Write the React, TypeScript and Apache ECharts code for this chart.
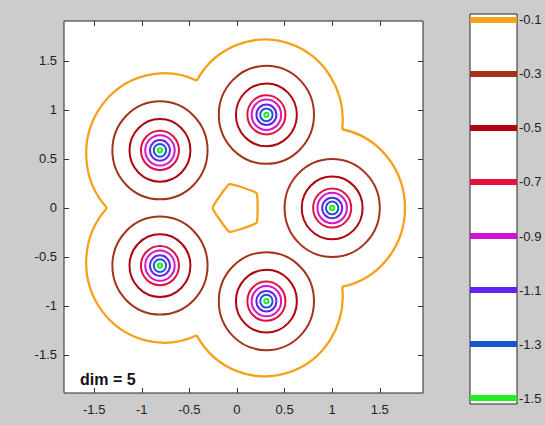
import React, { useEffect, useRef } from "react";
import * as echarts from "echarts";

// axis ticks / limits
const xTicks = [-1.5, -1, -0.5, 0, 0.5, 1, 1.5];
const yTicks = [-1.5, -1, -0.5, 0, 0.5, 1, 1.5];
const xRange = [-1.817, 1.954];
const yRange = [-1.888, 1.908];

// contour levels and their colours
const levels = [-0.1, -0.3, -0.5, -0.7, -0.9, -1.1, -1.3, -1.5];
const levelColors = ["#f6a11c", "#a5321c", "#b0050f", "#e2123a", "#d312d3", "#6521f2", "#1b56cf", "#22ee22"];

// well centres
const wellX = [1, 0.309, -0.809, -0.809, 0.309];
const wellY = [0, 0.951, 0.588, -0.588, -0.951];

// ring radius around each well for levels -0.3 ... -1.5
const ringRadii = [0.5, 0.32, 0.2, 0.155, 0.105, 0.065, 0.022];

// outer -0.1 contour, one arc per well: centre x, centre y, radius, from (deg), to (deg)
const outerArcX = [0.946, 0.292, -0.765, -0.765, 0.292];
const outerArcY = [0, 0.9, 0.556, -0.556, -0.9];
const outerArcR = [0.819, 0.819, 0.819, 0.819, 0.819];
const outerArcFrom = [-78.8, -6.8, 65.2, 137.2, 209.2];
const outerArcTo = [78.8, 150.8, 222.8, 294.8, 366.8];

// inner -0.1 contour around the origin
const pentagonX = [-0.255, -0.079, 0.206, 0.206, -0.079];
const pentagonY = [0, 0.243, 0.15, -0.15, -0.243];

// colour bar
const colorbarRange = [-1.522, -0.078];
const bandHalf = 0.0111;

const FONT = "Liberation Sans, Arial, sans-serif";

export default function App() {
  const ref = useRef<HTMLDivElement>(null);
  useEffect(() => {
    if (!ref.current) return;
    const chart = echarts.init(ref.current, null, { renderer: "svg" });

    const ringData: number[][] = [];
    wellX.forEach((x, i) => {
      ringRadii.forEach((r, k) => ringData.push([x, wellY[i], r, k + 1]));
    });

    const tickStyle = { inside: true, length: 5, lineStyle: { color: "#333", width: 1 } };
    const noLine = { show: false, onZero: false };

    const option: any = {
      animation: false,
      backgroundColor: "#cccccc",
      grid: [
        { left: 64, top: 21, width: 359, height: 372, show: true, backgroundColor: "#ffffff", borderColor: "#262626", borderWidth: 1 },
        { left: 470, top: 14, width: 47, height: 390, show: true, backgroundColor: "#ffffff", borderColor: "#262626", borderWidth: 1 },
      ],
      xAxis: [
        {
          gridIndex: 0, type: "value", min: xRange[0], max: xRange[1], position: "bottom",
          axisLine: noLine, splitLine: { show: false },
          axisTick: { ...tickStyle, customValues: xTicks },
          axisLabel: { customValues: xTicks, margin: 10, fontSize: 13, color: "#222", fontFamily: FONT },
        },
        {
          gridIndex: 0, type: "value", min: xRange[0], max: xRange[1], position: "top",
          axisLine: noLine, splitLine: { show: false },
          axisTick: { ...tickStyle, customValues: xTicks },
          axisLabel: { show: false },
        },
        {
          gridIndex: 1, type: "value", min: 0, max: 1, show: false,
        },
      ],
      yAxis: [
        {
          gridIndex: 0, type: "value", min: yRange[0], max: yRange[1], position: "left",
          axisLine: noLine, splitLine: { show: false },
          axisTick: { ...tickStyle, customValues: yTicks },
          axisLabel: { customValues: yTicks, margin: 7, fontSize: 13, color: "#222", fontFamily: FONT },
        },
        {
          gridIndex: 0, type: "value", min: yRange[0], max: yRange[1], position: "right",
          axisLine: noLine, splitLine: { show: false },
          axisTick: { ...tickStyle, customValues: yTicks },
          axisLabel: { show: false },
        },
        {
          gridIndex: 1, type: "value", min: colorbarRange[0], max: colorbarRange[1], position: "right",
          axisLine: noLine, splitLine: { show: false }, axisTick: { show: false },
          axisLabel: { customValues: levels, margin: 2, fontSize: 13, color: "#222", fontFamily: FONT },
        },
      ],
      series: [
        {
          type: "custom",
          xAxisIndex: 0, yAxisIndex: 0,
          data: outerArcX.map((x, i) => [x, outerArcY[i], outerArcR[i], outerArcFrom[i], outerArcTo[i]]),
          renderItem: (_p: any, api: any) => {
            const c = api.coord([api.value(0), api.value(1)]);
            const s = api.size([api.value(2), api.value(2)]);
            const a0 = (api.value(3) * Math.PI) / 180;
            const a1 = (api.value(4) * Math.PI) / 180;
            return {
              type: "arc",
              x: c[0], y: c[1], scaleY: s[1] / s[0],
              shape: { cx: 0, cy: 0, r: s[0], startAngle: -a1, endAngle: -a0, clockwise: true },
              style: { fill: "none", stroke: levelColors[0], lineWidth: 2.3 },
            };
          },
        },
        {
          type: "custom",
          xAxisIndex: 0, yAxisIndex: 0,
          data: [[0, 0]],
          renderItem: (_p: any, api: any) => {
            const pts = pentagonX.map((x, i) => api.coord([x, pentagonY[i]]));
            return {
              type: "polygon",
              shape: { points: pts, smooth: 0.1 },
              style: { fill: "none", stroke: levelColors[0], lineWidth: 2.3 },
            };
          },
        },
        {
          type: "custom",
          xAxisIndex: 0, yAxisIndex: 0,
          data: ringData,
          renderItem: (_p: any, api: any) => {
            const c = api.coord([api.value(0), api.value(1)]);
            const s = api.size([api.value(2), api.value(2)]);
            return {
              type: "ellipse",
              shape: { cx: c[0], cy: c[1], rx: s[0], ry: s[1] },
              style: { fill: "none", stroke: levelColors[api.value(3)], lineWidth: 2 },
            };
          },
        },
        {
          type: "custom",
          xAxisIndex: 2, yAxisIndex: 2,
          data: levels.map((v, i) => [0, v, i]),
          renderItem: (_p: any, api: any) => {
            const v = api.value(1);
            const p1 = api.coord([0, v + bandHalf]);
            const p2 = api.coord([1, v - bandHalf]);
            return {
              type: "rect",
              shape: { x: p1[0], y: p1[1], width: p2[0] - p1[0], height: p2[1] - p1[1] },
              style: { fill: levelColors[api.value(2)] },
            };
          },
        },
      ],
      graphic: [
        {
          type: "text", left: 80, top: 371,
          style: { text: "dim = 5", font: "bold 16px Liberation Sans, Arial, sans-serif", fill: "#111" },
        },
      ],
    };
    chart.setOption(option);
    return () => chart.dispose();
  }, []);
  return <div ref={ref} style={{ position: "fixed", left: 0, top: 0, width: 545, height: 425 }} />;
}
